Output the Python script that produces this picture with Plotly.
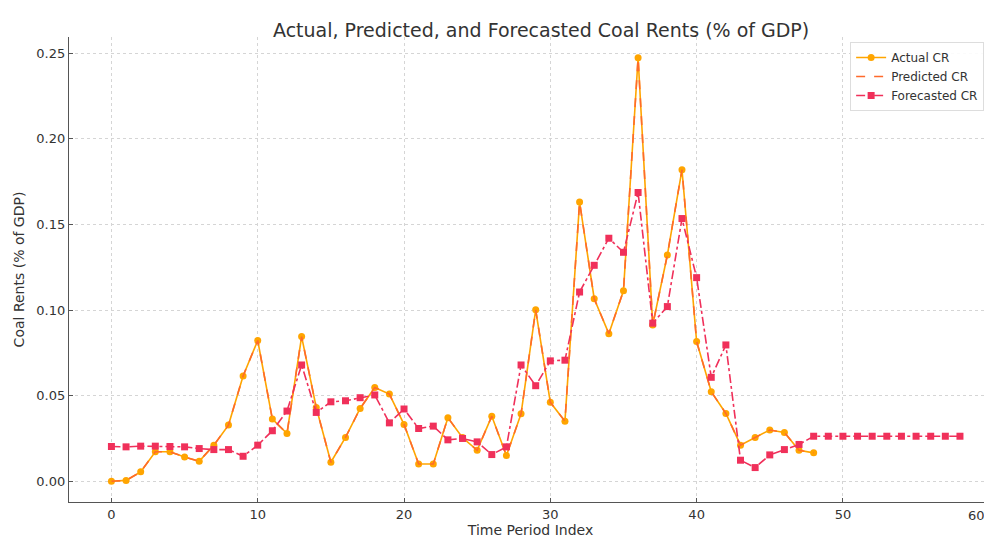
import plotly.graph_objects as go

# values
time_idx = list(range(59))

actual_cr = [0.000, 0.0005, 0.0055, 0.0172, 0.0172, 0.0142, 0.0117, 0.0211, 0.0328, 0.0615,
             0.0822, 0.0363, 0.0279, 0.0845, 0.0431, 0.0111, 0.0256, 0.0425, 0.0548, 0.0509,
             0.0332, 0.0101, 0.0101, 0.0371, 0.0255, 0.0181, 0.0380, 0.0150, 0.0394, 0.1001,
             0.0461, 0.0351, 0.1630, 0.1066, 0.0862, 0.1112, 0.2473, 0.0913, 0.1321, 0.1819,
             0.0816, 0.0523, 0.0396, 0.0211, 0.0256, 0.0299, 0.0285, 0.0181, 0.0166]

# predicted sits right on top of the actual line
predicted_cr = list(actual_cr)

forecast_cr = [0.0203, 0.0201, 0.0205, 0.0205, 0.0203, 0.0201, 0.0191, 0.0185, 0.0185, 0.0146,
               0.0211, 0.0295, 0.0410, 0.0679, 0.0402, 0.0464, 0.0470, 0.0488, 0.0504, 0.0341,
               0.0422, 0.0308, 0.0322, 0.0242, 0.0250, 0.0230, 0.0156, 0.0201, 0.0679, 0.0558,
               0.0703, 0.0707, 0.1105, 0.1261, 0.1419, 0.1337, 0.1686, 0.0923, 0.1020, 0.1534,
               0.1189, 0.0607, 0.0796, 0.0123, 0.0080, 0.0154, 0.0185, 0.0215, 0.0263, 0.0263,
               0.0263, 0.0263, 0.0263, 0.0263, 0.0263, 0.0263, 0.0263, 0.0263, 0.0263]

x_ticks = [0, 10, 20, 30, 40, 50, 60]
y_ticks = [0.00, 0.05, 0.10, 0.15, 0.20, 0.25]

font = "DejaVu Sans"

fig = go.Figure()
fig.add_trace(go.Scatter(
    x=time_idx[:len(actual_cr)], y=actual_cr, name="Actual CR",
    mode="lines+markers",
    line=dict(color="#FFA500", width=1.6),
    marker=dict(symbol="circle", size=7, color="#FFA500")))
fig.add_trace(go.Scatter(
    x=time_idx[:len(predicted_cr)], y=predicted_cr, name="Predicted CR",
    mode="lines",
    line=dict(color="#FF6A2B", width=1.6, dash="dash")))
fig.add_trace(go.Scatter(
    x=time_idx, y=forecast_cr, name="Forecasted CR",
    mode="lines+markers",
    line=dict(color="#F0305A", width=1.6, dash="dashdot"),
    marker=dict(symbol="square", size=7, color="#F0305A")))

# page body has an 8px margin, so the figure is a bit smaller than the window
fig.update_layout(
    width=984, height=531,
    margin=dict(l=61, r=0, t=29, b=37, autoexpand=False),
    paper_bgcolor="white", plot_bgcolor="white",
    font=dict(family=font, size=13, color="#333333"),
    title=dict(text="Actual, Predicted, and Forecasted Coal Rents (% of GDP)",
               x=0.5115, xref="paper", xanchor="center", y=0.958, yanchor="middle",
               font=dict(size=19, color="#333333")),
    showlegend=True,
    legend=dict(x=0.992, y=0.936, xref="container", yref="container",
                xanchor="right", yanchor="top",
                bgcolor="rgba(255,255,255,0.9)", bordercolor="#DDDDDD", borderwidth=1,
                font=dict(size=12, color="#333333"), tracegroupgap=0,
                itemwidth=30))

# last tick label sits on the cut edge, plotly drops it, so put it back by hand
fig.add_annotation(x=x_ticks[-1], y=0, xref="x", yref="paper",
                   xanchor="right", yanchor="top", xshift=-2, yshift=-4,
                   text=str(x_ticks[-1]), showarrow=False,
                   font=dict(size=13, color="#333333"))

fig.update_xaxes(
    range=[-2.9, 60.19], tickvals=x_ticks[:-1],
    title=dict(text="Time Period Index", font=dict(size=14), standoff=4),
    showgrid=True, gridcolor="#D5D5D5", griddash="dot", gridwidth=1,
    showline=True, linecolor="#555555", linewidth=1.3,
    ticks="inside", ticklen=4, tickcolor="#555555",
    zeroline=False, tickfont=dict(size=13))
fig.update_yaxes(
    range=[-0.0121, 0.2594], tickvals=y_ticks, tickformat=".2f",
    title=dict(text="Coal Rents (% of GDP)", font=dict(size=14), standoff=8),
    showgrid=True, gridcolor="#D5D5D5", griddash="dot", gridwidth=1,
    showline=True, linecolor="#555555", linewidth=1.3,
    ticks="inside", ticklen=4, tickcolor="#555555",
    zeroline=False, tickfont=dict(size=13))

fig.write_html("out.html")
